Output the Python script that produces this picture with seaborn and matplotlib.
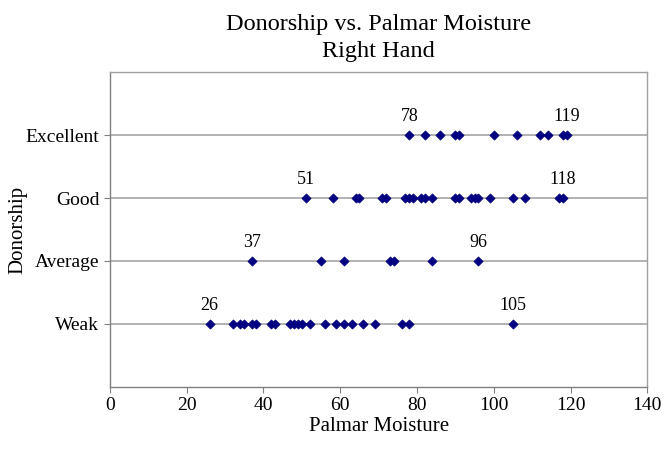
import pandas as pd
import matplotlib.pyplot as plt
import seaborn as sns

# data (palmar moisture per donorship level)
categories = ['Weak', 'Average', 'Good', 'Excellent']
weak = [26, 32, 34, 35, 37, 38, 42, 43, 47, 48, 49, 50, 52, 56, 59, 61, 63, 66, 69, 76, 78, 105]
average = [37, 55, 61, 73, 74, 84, 96]
good = [51, 58, 64, 65, 71, 72, 77, 78, 79, 81, 82, 84, 90, 91, 94, 95, 96, 99, 105, 108, 117, 118]
excellent = [78, 82, 86, 90, 91, 100, 106, 112, 114, 118, 119]

series = [weak, average, good, excellent]
rows = []
for i, (cat, vals) in enumerate(zip(categories, series)):
    for v in vals:
        rows.append({'moisture': v, 'level': i + 1, 'donorship': cat})
df = pd.DataFrame(rows)

sns.set_style('white')
plt.rcParams['font.family'] = ['Liberation Serif', 'DejaVu Serif']
plt.rcParams['text.color'] = 'black'
plt.rcParams['axes.labelcolor'] = 'black'
plt.rcParams['xtick.labelcolor'] = 'black'
plt.rcParams['ytick.labelcolor'] = 'black'

fig = plt.figure(figsize=(6.66, 4.54), dpi=100)
ax = fig.add_axes([0.165, 0.148, 0.807, 0.693])

grid_c = '#a6a6a6'
for i in range(len(categories)):
    ax.axhline(i + 1, color=grid_c, lw=1.2, zorder=1)

sns.scatterplot(data=df, x='moisture', y='level', marker='D', s=22,
                color='#000080', edgecolor='#000080', linewidth=0.5,
                ax=ax, zorder=3, legend=False)

# label min and max of each row
for i, vals in enumerate(series):
    for v in (min(vals), max(vals)):
        ax.annotate(str(v), (v, i + 1), xytext=(0, 7), textcoords='offset points',
                    ha='center', va='bottom', fontsize=13)

ax.set_xlim(0, 140)
ax.set_ylim(0, 5)
ax.set_xticks(range(0, 141, 20))
ax.set_yticks(range(1, len(categories) + 1))
ax.set_yticklabels(categories)
ax.tick_params(axis='both', labelsize=14, length=4, color='#808080', direction='out',
               left=True, bottom=True)
for sp in ax.spines.values():
    sp.set_color('#a0a0a0')
    sp.set_linewidth(1)
ax.spines['left'].set_color('#808080')
ax.spines['bottom'].set_color('#808080')

ax.set_xlabel('Palmar Moisture', fontsize=15, labelpad=2)
ax.set_ylabel('Donorship', fontsize=15, labelpad=-1)
ax.set_title('Donorship vs. Palmar Moisture\nRight Hand', fontsize=17.5, pad=11, linespacing=1.4)

fig.savefig('out.png', dpi=100)
